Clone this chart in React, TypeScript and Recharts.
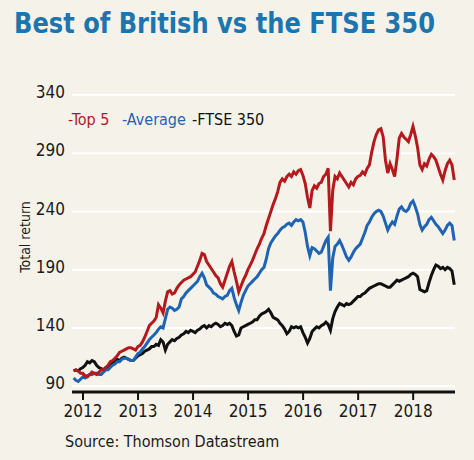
import { CartesianGrid, Line, LineChart, XAxis, YAxis } from 'recharts';

// half-monthly points, Nov 2011 to Sep 2018
const dates = Array.from({ length: 167 }, (_, i) => 2011.83 + i / 24);

const top5 = [
  103, 104, 103, 101, 101, 99, 98, 100, 102, 101,
  100, 102, 104, 104, 106, 108, 111, 112, 114, 116,
  119, 120, 121, 122, 123, 123, 122, 121, 124, 125,
  128, 132, 137, 142, 144, 146, 149, 160, 157, 153,
  163, 171, 172, 169, 170, 174, 177, 179, 181, 182,
  183, 184, 186, 188, 193, 198, 204, 203, 197, 194,
  191, 188, 185, 183, 178, 175, 181, 187, 193, 197,
  188, 180, 171, 176, 181, 185, 190, 194, 198, 203,
  208, 212, 217, 221, 228, 234, 240, 246, 251, 257,
  265, 268, 266, 270, 272, 270, 274, 272, 275, 276,
  271, 264, 252, 243, 258, 262, 260, 264, 265, 270,
  272, 277, 223, 258, 270, 268, 273, 270, 267, 264,
  261, 265, 263, 268, 270, 271, 274, 272, 277, 280,
  291, 300, 306, 310, 311, 304, 284, 273, 281, 276,
  270, 285, 303, 307, 304, 302, 300, 306, 313, 305,
  295, 280, 276, 281, 279, 285, 289, 287, 284, 278,
  272, 267, 275, 281, 284, 280, 267,
];

const average = [
  97, 95, 94, 96, 98, 97, 99, 100, 100, 101,
  101, 100, 100, 102, 104, 104, 106, 108, 109, 111,
  111, 113, 114, 114, 113, 112, 112, 115, 118, 119,
  122, 124, 127, 130, 132, 134, 136, 139, 141, 140,
  148, 156, 158, 157, 155, 156, 158, 165, 167, 170,
  172, 174, 176, 178, 180, 184, 187, 183, 177, 175,
  173, 170, 169, 167, 166, 165, 167, 168, 172, 174,
  166, 160, 155, 162, 168, 172, 176, 178, 180, 182,
  184, 187, 190, 192, 199, 208, 213, 216, 219, 221,
  224, 226, 227, 229, 230, 228, 231, 233, 232, 233,
  231, 222, 210, 202, 209, 208, 206, 204, 205, 210,
  215, 218, 172, 200, 210, 212, 215, 211, 206, 201,
  198, 201, 205, 208, 210, 212, 217, 222, 228, 231,
  235, 238, 240, 241, 240, 236, 230, 224, 228, 231,
  229, 236, 242, 244, 241, 240, 242, 247, 249, 244,
  238, 229, 224, 227, 229, 233, 235, 232, 229, 227,
  224, 221, 224, 228, 230, 228, 215,
];

const ftse350 = [
  103, 104, 103, 105, 106, 108, 111, 110, 112, 111,
  108, 106, 105, 104, 106, 106, 108, 110, 111, 113,
  112, 114, 115, 114, 113, 112, 112, 114, 116, 117,
  118, 120, 121, 122, 124, 124, 126, 125, 130, 128,
  121, 126, 128, 130, 129, 131, 132, 134, 135, 137,
  136, 138, 137, 136, 138, 139, 141, 142, 140, 142,
  141, 143, 144, 143, 141, 142, 144, 143, 144, 142,
  137, 133, 134, 140, 141, 142, 143, 144, 145, 147,
  147, 150, 152, 153, 154, 156, 153, 149, 148, 147,
  144, 142, 139, 135, 137, 141, 140, 141, 140, 141,
  136, 132, 127, 131, 137, 139, 141, 140, 142, 143,
  145, 143, 138, 148, 154, 158, 161, 160, 159, 161,
  160, 161, 163, 165, 167, 167, 169, 170, 172, 174,
  175, 176, 177, 178, 178, 177, 176, 175, 175, 177,
  179, 181, 180, 181, 182, 183, 184, 186, 187, 186,
  184, 173, 172, 171, 172, 179, 185, 190, 194, 193,
  191, 192, 190, 192, 191, 189, 177,
];

const yearTicks = [2012, 2013, 2014, 2015, 2016, 2017, 2018];
const valueTicks = [90, 140, 190, 240, 290, 340];

const data = dates.map((t, i) => ({
  t,
  top5: top5[i],
  average: average[i],
  ftse: ftse350[i],
}));

const font = '"DejaVu Sans Condensed", "DejaVu Sans", sans-serif';

function App() {
  return (
    <div
      style={{
        position: 'absolute',
        left: 0,
        top: 0,
        width: 474,
        height: 460,
        background: '#f5f2e9',
        fontFamily: font,
      }}
    >
      <LineChart
        width={474}
        height={460}
        data={data}
        margin={{ top: 95, right: 19, bottom: 38, left: 12 }}
      >
        <CartesianGrid vertical={false} stroke="#ffffff" strokeWidth={2} />
        <XAxis
          dataKey="t"
          type="number"
          domain={[2011.8, 2018.76]}
          ticks={yearTicks}
          height={30}
          tickSize={8}
          tickMargin={5}
          axisLine={{ stroke: '#111', strokeWidth: 3 }}
          tickLine={{ stroke: '#111', strokeWidth: 2 }}
          tick={{ fill: '#1a1a1a', fontSize: 17, fontFamily: font }}
        />
        <YAxis
          domain={[85, 340]}
          ticks={valueTicks}
          width={60}
          axisLine={false}
          tickLine={false}
          tickSize={0}
          tickMargin={7}
          tick={{ fill: '#1a1a1a', fontSize: 17, fontFamily: font, dy: -3 }}
        />
        <Line
          dataKey="ftse"
          stroke="#111111"
          strokeWidth={3}
          dot={false}
          isAnimationActive={false}
        />
        <Line
          dataKey="average"
          stroke="#1f64b3"
          strokeWidth={3}
          dot={false}
          isAnimationActive={false}
        />
        <Line
          dataKey="top5"
          stroke="#b3191d"
          strokeWidth={3}
          dot={false}
          isAnimationActive={false}
        />
      </LineChart>
      <svg
        width={474}
        height={460}
        style={{ position: 'absolute', left: 0, top: 0, pointerEvents: 'none' }}
      >
        <text
          x={14}
          y={33}
          fontFamily={font}
          fontWeight="bold"
          fontSize={29}
          fill="#1c75ad"
          textLength={421}
          lengthAdjust="spacingAndGlyphs"
        >
          Best of British vs the FTSE 350
        </text>
        <text x={68} y={125} fontFamily={font} fontSize={16}>
          <tspan fill="#b3191d">-Top 5</tspan>
          <tspan x={122} fill="#1f64b3">-Average</tspan>
          <tspan x={192} fill="#111">-FTSE 350</tspan>
        </text>
        <text
          x={30}
          y={237}
          fontFamily={font}
          fontSize={14}
          fill="#1a1a1a"
          textAnchor="middle"
          transform="rotate(-90 30 237)"
        >
          Total return
        </text>
        <text x={65} y={447} fontFamily={font} fontSize={16} fill="#1a1a1a">
          Source: Thomson Datastream
        </text>
      </svg>
    </div>
  );
}

export default App;
